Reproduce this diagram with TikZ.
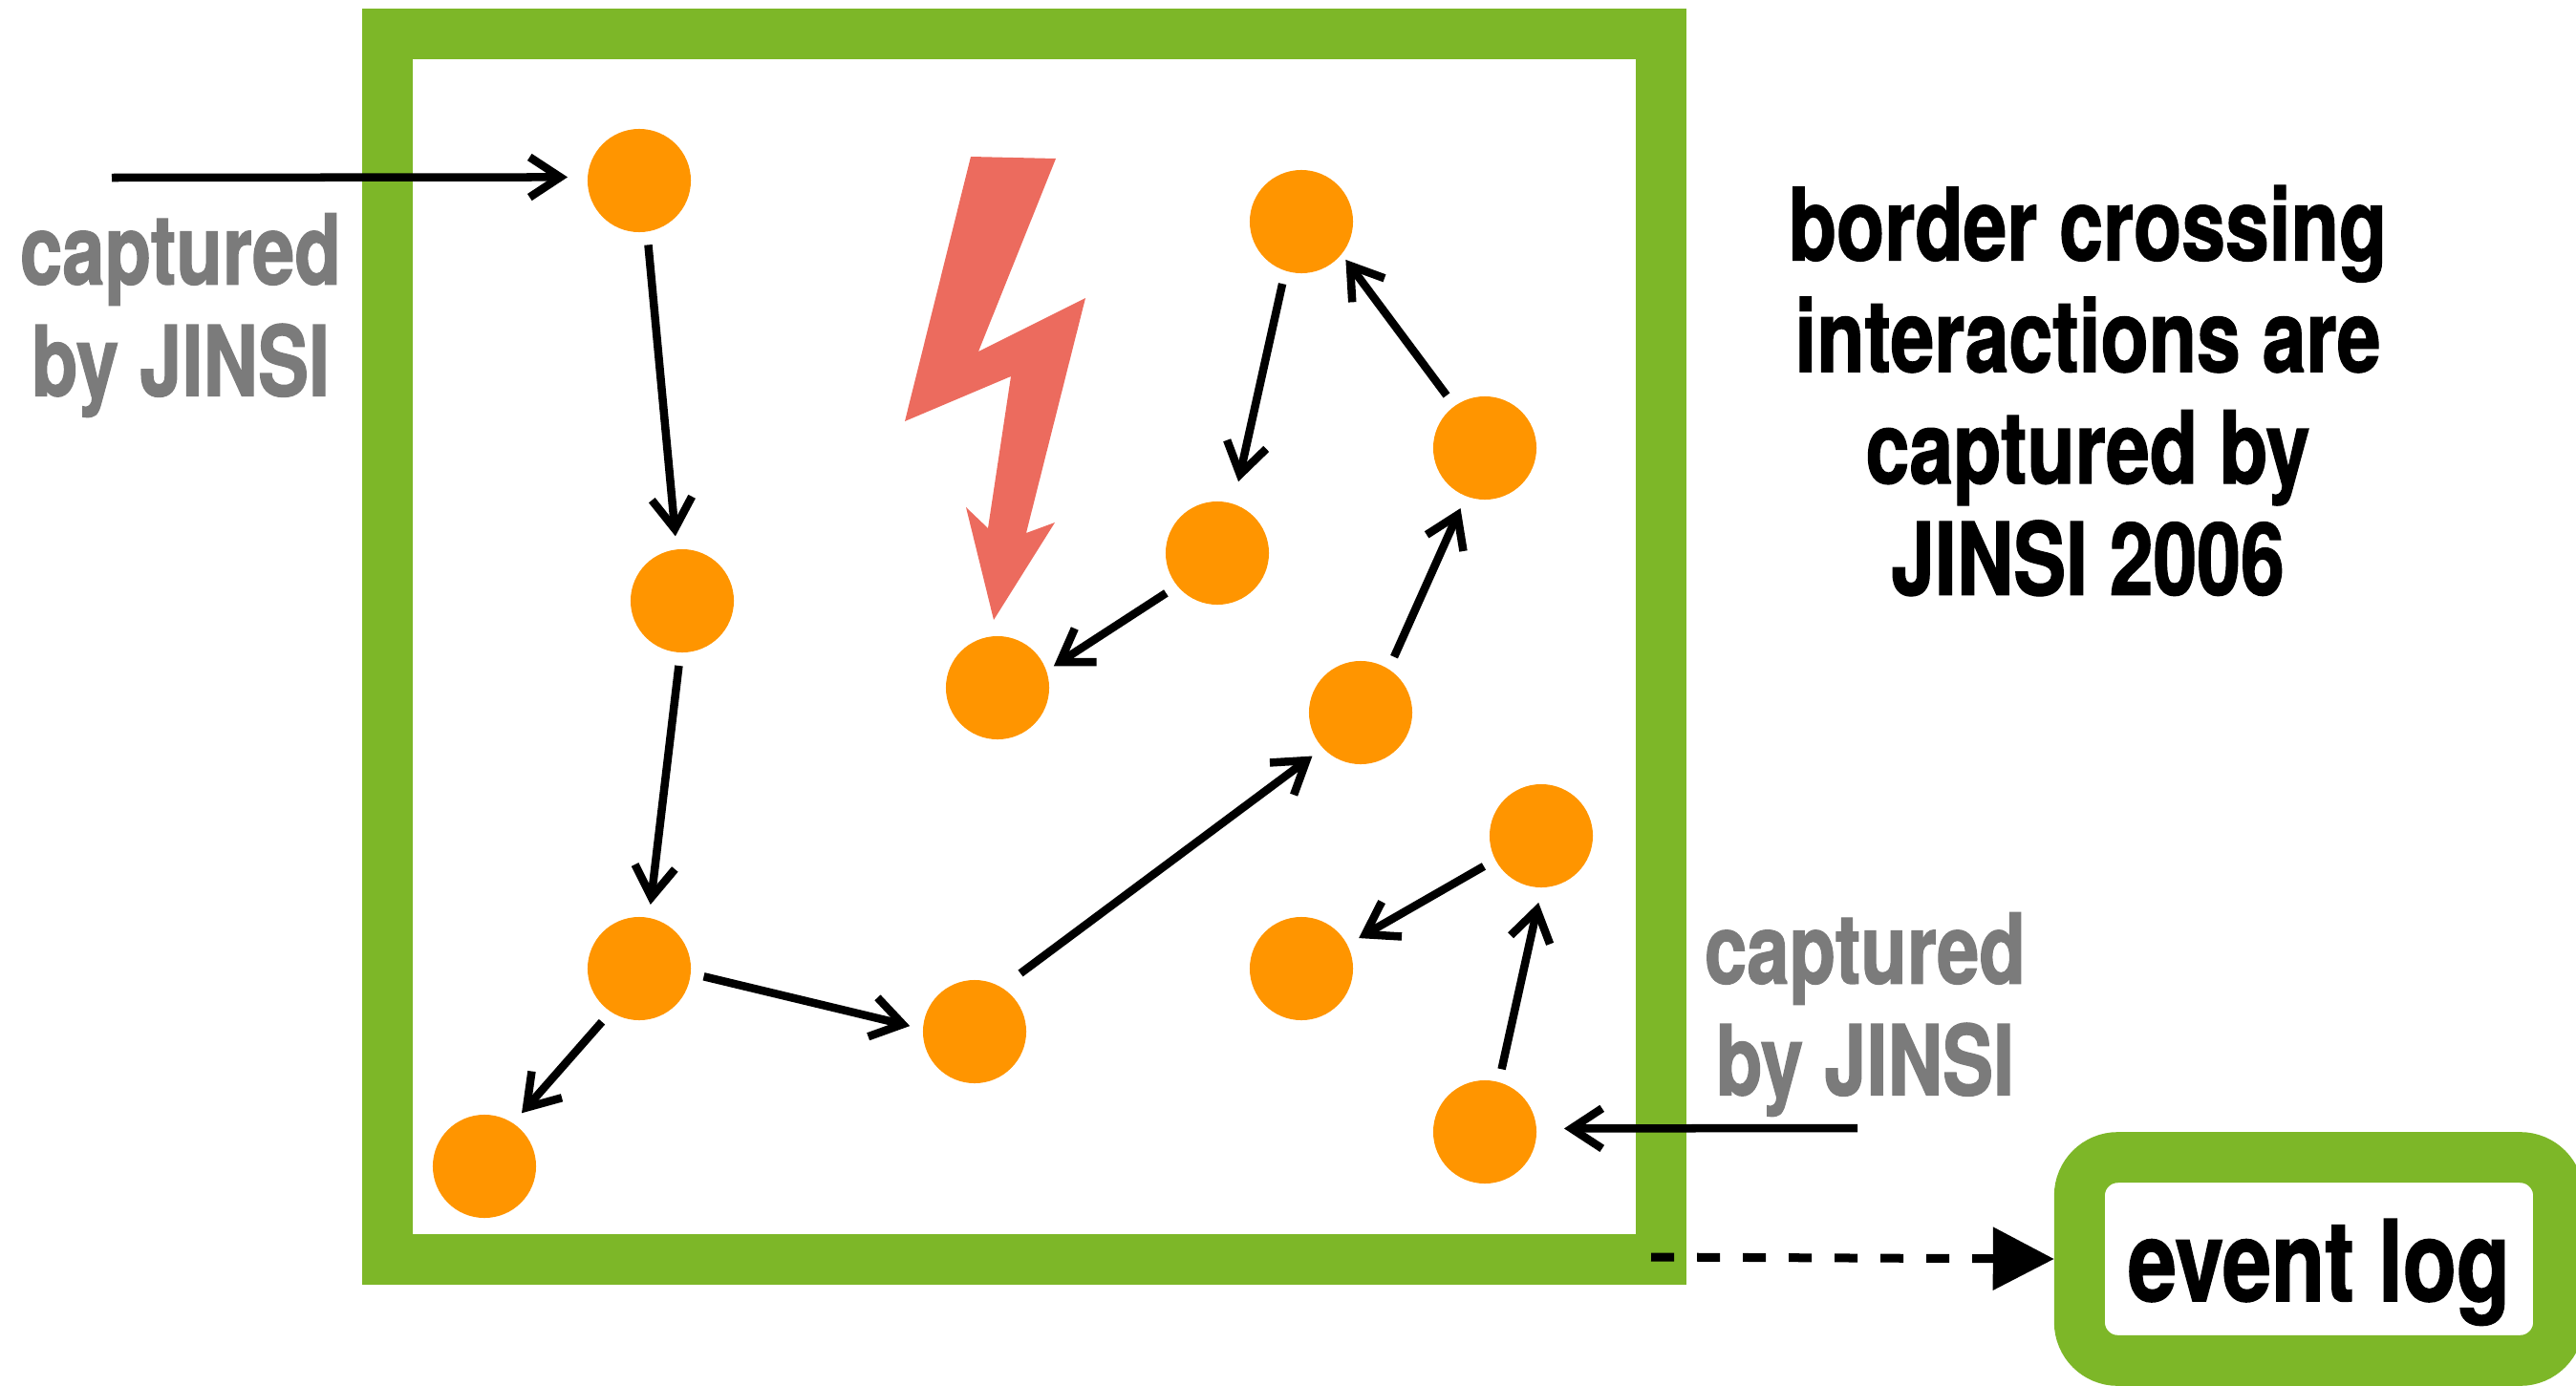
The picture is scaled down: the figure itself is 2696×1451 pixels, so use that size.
\documentclass[tikz,border=0pt]{standalone}
\usepackage{fontspec}
\usetikzlibrary{arrows.meta}
\setmainfont[FakeStretch=.78,BoldFeatures={FakeBold=1.2}]{TeX Gyre Heros}
\definecolor{leaf}{HTML}{7DB728}
\definecolor{amber}{HTML}{FF9500}
\definecolor{coral}{HTML}{EC6B5E}
\definecolor{slate}{HTML}{7B7B7B}
\tikzset{dot/.style={circle,fill=amber,minimum size=1.08cm,inner sep=0pt,outer sep=.14cm},
flow/.style={-{Straight Barb[length=.32cm,width=.42cm]},line width=.085cm,black},
frame/.style={draw=leaf,line width=.53cm},
lab/.style={font=\bfseries\fontsize{29}{33.2}\selectfont,text=slate,align=center},
note/.style={font=\bfseries\fontsize{30}{33.2}\selectfont,text=black,align=center}}
\begin{document}
\begin{tikzpicture}[x=.01cm,y=-.01cm]
\useasboundingbox (0,0) rectangle (2696,1451);
\draw[frame] (405.5,35.5) rectangle (1738.5,1318.5);
\fill[coral] (1016,164)--(1105,166)--(1024,368)--(1136,312)--(1074,558)--(1104,547)--(1040,649)--(1011,531)--(1034,553)--(1058,394)--(947,441)--cycle;
\node[dot] (c1) at (669,189) {};
\node[dot] (c2) at (714,629) {};
\node[dot] (c3) at (669,1014) {};
\node[dot] (c4) at (507,1221) {};
\node[dot] (c5) at (1020,1080) {};
\node[dot] (c6) at (1424,746) {};
\node[dot] (c7) at (1554,469) {};
\node[dot] (c8) at (1362,232) {};
\node[dot] (c9) at (1274,579) {};
\node[dot] (c10) at (1044,720) {};
\node[dot] (c11) at (1613,875) {};
\node[dot] (c12) at (1362,1014) {};
\node[dot] (c13) at (1554,1185) {};
\draw[flow] (c1.-82.5)--(c2.96);
\draw[flow] (c2.-93)--(c3.80.5);
\draw[flow] (c3.-125.7)--(c4.55);
\draw[flow] (c3.-7.5)--(c5.175);
\draw[flow,shorten <=.1cm] (c5.54)--(c6.222);
\draw[flow] (c6.59.5)--(c7.248.5);
\draw[flow,shorten >=-.07cm] (c7.126.6)--(c8.-42.7);
\draw[flow,shorten >=.1cm] (c8.253)--(c9.73);
\draw[flow,shorten >=-.05cm] (c9.218)--(c10.22);
\draw[flow] (c11.208)--(c12.28);
\draw[flow,shorten >=.02cm] (c13.75)--(c11.268);
% free ends outside the frame
\coordinate (inleft) at (117,186);
\coordinate (inright) at (1944,1181);
\coordinate (outlog) at (1728,1316);
\draw[flow,shorten >=.07cm] (inleft)--(c1.177);
\draw[flow,shorten >=.15cm] (inright)--(c13.3);
\node[frame,rounded corners=.4cm,minimum width=5.01cm,minimum height=2.125cm,inner sep=0pt,text height=1.12cm,text depth=.24cm,font=\bfseries\fontsize{33.5}{36}\selectfont] (log) at (2427,1318) {event log};
\draw[-{Triangle[length=.64cm,width=.64cm]},line width=.09cm,dash pattern=on .24cm off .24cm] (outlog)--(log.west);
\node[lab] (labl) at (189,330) {captured\\by JINSI};
\node[lab] (labr) at (1952,1062) {captured\\by JINSI};
\node[note] (head) at (2185,409) {border crossing\\interactions are\\captured by\\JINSI 2006};
\end{tikzpicture}
\end{document}
